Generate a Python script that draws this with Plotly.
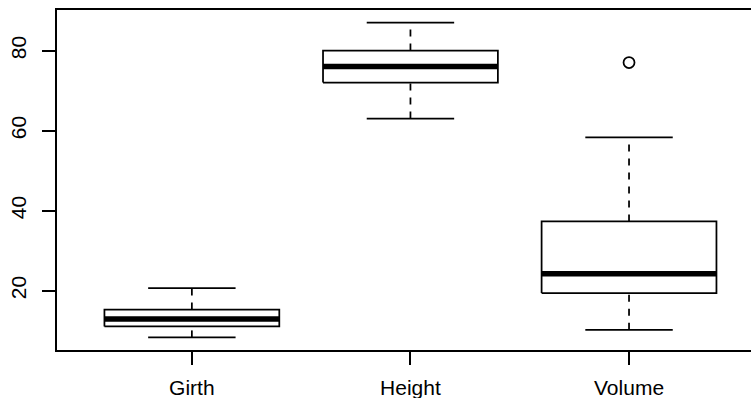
import plotly.graph_objects as go

categories = ["Girth", "Height", "Volume"]
lower_whisker = [8.3, 63.0, 10.2]
q1 = [11.05, 72.0, 19.4]
median = [12.9, 76.0, 24.2]
q3 = [15.25, 80.0, 37.3]
upper_whisker = [20.6, 87.0, 58.3]
outlier_cat = ["Volume"]
outlier_val = [77.0]

y_ticks = [20, 40, 60, 80]

LW = 1.75
BOXHALF = 0.4
CAPHALF = 0.2

fig = go.Figure()
for i, cat in enumerate(categories):
    x = i + 1
    # whiskers (dashed)
    fig.add_trace(go.Scatter(
        x=[x, x, None, x, x],
        y=[lower_whisker[i], q1[i], None, q3[i], upper_whisker[i]],
        mode="lines", line=dict(color="black", width=LW, dash="7px,7px"),
        hoverinfo="skip", showlegend=False))
    # caps
    fig.add_trace(go.Scatter(
        x=[x - CAPHALF, x + CAPHALF, None, x - CAPHALF, x + CAPHALF],
        y=[lower_whisker[i], lower_whisker[i], None, upper_whisker[i], upper_whisker[i]],
        mode="lines", line=dict(color="black", width=LW),
        hoverinfo="skip", showlegend=False))
    # box
    fig.add_trace(go.Scatter(
        x=[x - BOXHALF, x + BOXHALF, x + BOXHALF, x - BOXHALF, x - BOXHALF],
        y=[q1[i], q1[i], q3[i], q3[i], q1[i]],
        mode="lines", fill="toself", fillcolor="white",
        line=dict(color="black", width=LW),
        hoverinfo="skip", showlegend=False))
    # median
    fig.add_trace(go.Scatter(
        x=[x - BOXHALF, x + BOXHALF], y=[median[i], median[i]],
        mode="lines", line=dict(color="black", width=5.5),
        hoverinfo="skip", showlegend=False))

fig.add_trace(go.Scatter(
    x=[categories.index(c) + 1 for c in outlier_cat], y=outlier_val,
    mode="markers",
    marker=dict(symbol="circle-open", size=11, color="black", line=dict(width=LW)),
    hoverinfo="skip", showlegend=False))

fig.update_layout(
    width=751, height=398,
    margin=dict(l=57, r=0, t=10, b=48),
    paper_bgcolor="white", plot_bgcolor="white",
    font=dict(family="Liberation Sans, Arial, sans-serif", size=21, color="black"),
    showlegend=False,
)
fig.update_xaxes(
    range=[0.383, 3.558],
    tickmode="array", tickvals=[1, 2, 3], ticktext=categories,
    showline=True, linecolor="black", linewidth=LW, mirror=True,
    ticks="outside", ticklen=13, tickwidth=LW, tickcolor="black",
    ticklabelstandoff=5, automargin=False,
    showgrid=False, zeroline=False,
)
fig.update_yaxes(
    range=[5.152, 90.148],
    tickmode="array", tickvals=y_ticks,
    showline=True, linecolor="black", linewidth=LW,
    ticks="outside", ticklen=13, tickwidth=LW, tickcolor="black",
    tickangle=-90, ticklabelstandoff=8, automargin=False,
    showgrid=False, zeroline=False,
)

fig.write_html("out.html")
